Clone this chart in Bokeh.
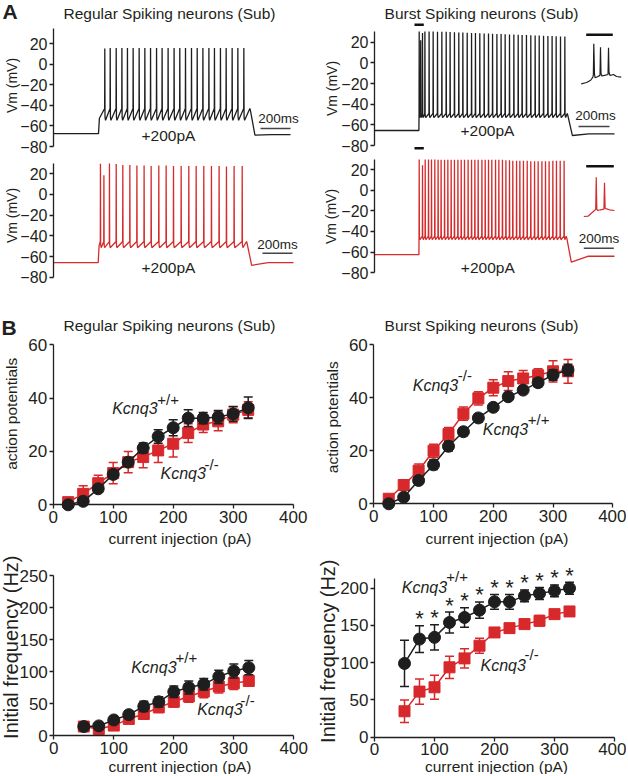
import math
from bokeh.plotting import figure
from bokeh.models import Range1d, Label, FixedTicker
from bokeh.layouts import column, row
from bokeh.core.properties import value
from bokeh.embed import file_html
from bokeh.resources import INLINE

# ================= DATA =================
# ---- Panel A: membrane potential traces at +200 pA (time in ms, Vm in mV) ----
rs_wt_spikes = [342, 378, 418, 456, 493, 531, 571, 609, 647, 687, 724, 764, 804,
                842, 880, 920, 958, 996, 1036, 1073, 1113, 1151, 1191, 1229, 1269]
rs_wt_peaks = [15.5, 16, 16, 16, 16, 16, 16, 16, 16, 16, 16, 16, 16,
               16, 16, 16, 16, 16, 16, 16, 16, 16, 16, 16, 16]
rs_wt_levels = [-67.5, -43, -54.5, -69, -68.5]   # rest, threshold, trough, undershoot, rest after
rs_wt_step = [300, 1313, 1580]                    # step on, step off, trace end

rs_ko_spikes = [313, 336, 373, 418, 462, 509, 556, 604, 651, 702, 751, 800, 851,
                902, 951, 1002, 1053, 1104, 1153, 1204, 1258]
rs_ko_peaks = [29.7, 18.5, 30, 29.5, 28.5, 28.5, 28, 28, 27.5, 28, 28, 27.5, 27.5,
               27.5, 27.5, 27.5, 27.5, 27.5, 27, 27.5, 27.5]
rs_ko_levels = [-66, -45.5, -51.5, -68.5, -66]
rs_ko_step = [298, 1291, 1600]

bs_wt_spikes = [298, 308, 320, 336, 364, 391, 420, 449, 478, 504, 533, 562, 589,
                618, 647, 673, 702, 731, 760, 787, 816, 844, 871, 900, 929, 958,
                984, 1013, 1042, 1071, 1098, 1127, 1156, 1184, 1211, 1240, 1269]
bs_wt_peaks = [30.4, 22, 29, 30.4, 30.4, 30.3, 30.2, 30.1, 30, 29.8, 29.7, 29.5, 29.4,
               29.2, 29, 28.9, 28.7, 28.5, 28.4, 28.2, 28, 27.9, 27.7, 27.5, 27.4, 27.2,
               27, 26.9, 26.7, 26.5, 26.4, 26.2, 26, 25.9, 25.7, 25.6, 25.5]
bs_wt_levels = [-65.5, -49, -53, -70.3, -68.7]
bs_wt_step = [296, 1289, 1600]

bs_ko_spikes = [298, 320, 338, 360, 380, 402, 424, 444, 467, 489, 511, 533, 556, 578,
                600, 624, 647, 669, 691, 716, 738, 760, 782, 807, 829, 853, 876, 900,
                922, 947, 969, 993, 1018, 1042, 1067, 1091, 1116, 1140, 1164, 1189,
                1213, 1238, 1264]
bs_ko_peaks = [29.7, 24, 29.7, 29.7, 29.7, 29.7, 29.5, 29.5, 29.5, 29.5, 29.5, 29.5, 29.5, 29.5,
               29.5, 29.5, 29.5, 29.5, 29.5, 29.5, 29.5, 29.5, 29.5, 29.5, 29.5, 29.5, 29, 29,
               28.5, 28.5, 28.5, 28.5, 28.5, 28, 28, 28, 28, 28, 28, 28.5,
               28.5, 28.5, 28.5]
bs_ko_levels = [-62.5, -44.5, -48, -69.7, -64]
bs_ko_step = [296, 1282, 1600]

# Insets: first burst, expanded (ms from window start, mV)
bs_wt_inset_t = [0, 12, 21, 26, 27, 28, 29.5, 31, 36, 41.8, 42.9, 44, 46, 54, 59.6, 60.7,
                 61.8, 64, 71.8, 78.4, 88.9]
bs_wt_inset_v = [-62, -59, -54, -47, -42, 28, -40, -48.5, -46, -43, 20.3, -38, -44.4, -42.5,
                 -41, 19, -36, -43.3, -41, -45.6, -47.1]
bs_ko_inset_t = [0, 10, 23.8, 26.5, 27.6, 29, 31.1, 37.1, 44.7, 46, 47.4, 51, 57.1, 68.2]
bs_ko_inset_v = [-62, -61, -48.5, -46, 26.5, -46, -48.5, -46.9, -45.5, 13.9, -44, -45, -46.9, -48.5]

# ---- Panel B: summary data (mean, SEM) ----
ap_current = [25, 50, 75, 100, 125, 150, 175, 200, 225, 250, 275, 300, 325]
rs_ap_wt = [0, 1.3, 6, 11.4, 16, 21.3, 25.6, 28.9, 32.5, 32.5, 32.9, 34.1, 36.4]
rs_ap_wt_err = [0.5, 0.8, 1.2, 1.5, 1.3, 1.9, 2.5, 3, 3.1, 2.1, 2.5, 2.8, 4]
rs_ap_ko = [1, 4.1, 8.1, 11.9, 16, 17.9, 20.4, 22.9, 26.9, 30.1, 31.3, 33.8, 35.6]
rs_ap_ko_err = [1, 3, 3, 4, 4, 4, 4.5, 5, 3.5, 3, 3.5, 3, 3]

bs_ap_wt = [0, 2.5, 8.8, 14.7, 21.7, 27.2, 32.4, 36.4, 40.4, 42.9, 45.7, 48.6, 50.5]
bs_ap_wt_err = [0.3, 1, 1.2, 1.8, 1.8, 1.5, 1.5, 1, 1, 1, 1.5, 2, 2.2]
bs_ap_ko = [1.9, 7.1, 12.5, 20, 26.3, 34, 39.8, 43.8, 46.3, 47.3, 48.5, 50, 50]
bs_ap_ko_err = [1, 2, 2.5, 2.5, 2.5, 2.5, 2.5, 3, 3.5, 3, 2.5, 4, 4.5]

freq_current = [50, 75, 100, 125, 150, 175, 200, 225, 250, 275, 300, 325]
rs_fr_wt = [14, 15, 24.3, 32.6, 45.5, 52.7, 68.3, 75, 80.2, 92, 100.8, 106]
rs_fr_wt_err = [3, 3, 4, 6, 8, 8, 9, 10, 9, 10, 11, 11]
rs_fr_ko = [14, 10.3, 15.5, 25.9, 33.6, 44, 52.7, 61, 68.8, 76.5, 81.7, 85.3]
rs_fr_ko_err = [3, 4, 5, 6, 7, 8, 8, 9, 10, 10, 10, 8]

bs_fr_wt = [99, 131.7, 134, 154, 160.7, 170.5, 181.7, 181.7, 189.7, 192.9, 196.4, 200]
bs_fr_wt_err = [31, 18, 17, 14, 13, 11, 10, 10, 8, 8, 8, 8]
bs_fr_ko = [34.8, 61.2, 67, 93.8, 105.8, 122.8, 140.6, 146.4, 151.8, 156.3, 165.2, 168.8]
bs_fr_ko_err = [15, 17, 16, 15, 13, 10, 6, 4, 5, 7, 4, 3]
bs_fr_significant = [False, True, True, True, True, True, True, True, True, True, True, True]

vm_ticks = [-80, -60, -40, -20, 0, 20]
current_ticks = [0, 100, 200, 300, 400]
ap_ticks = [0, 20, 40, 60]
rs_fr_ticks = [0, 50, 100, 150, 200, 250]
bs_fr_ticks = [0, 50, 100, 150, 200]

# ================= STYLE / LAYOUT =================
FONT = "Liberation Sans"
TXT = "#231f20"
AX = "#231f20"
BLACK = "#1e1e1e"
RED = "#d7282b"
TRED = "#d52b2b"


def lin(c, p):
    v1, p1, v2, p2 = c
    return v1 + (p - p1) * (v2 - v1) / (p2 - p1)


def make_fig(box, xcal, ycal, has_x):
    # the plotting frame fills the whole figure; axes are pinned inside it
    left, top, w, h = box
    p = figure(width=w, height=h,
               x_range=Range1d(lin(xcal, left), lin(xcal, left + w)),
               y_range=Range1d(lin(ycal, top + h), lin(ycal, top)),
               x_axis_type="linear" if has_x else None,
               output_backend="svg", toolbar_location=None,
               min_border_left=0, min_border_right=0,
               min_border_top=0, min_border_bottom=0)
    p.outline_line_color = None
    p.grid.grid_line_color = None
    p.background_fill_color = None
    p.border_fill_color = None
    return p


def style_axis(ax, ticks, bounds, size):
    ax.ticker = FixedTicker(ticks=ticks)
    ax.bounds = bounds
    ax.fixed_location = 0
    ax.axis_line_color = AX
    ax.axis_line_width = 1.3
    ax.major_tick_line_color = AX
    ax.major_tick_line_width = 1.3
    ax.major_tick_out = 4
    ax.major_tick_in = 0
    ax.minor_tick_line_color = None
    ax.major_label_text_font = FONT
    ax.major_label_text_font_size = f"{size}px"
    ax.major_label_text_color = TXT
    ax.major_label_standoff = 2


def lab(p, box, X, Y, text, size, align="center", baseline="middle", angle=0.0,
        style="normal", color=TXT):
    left, top = box[0], box[1]
    p.add_layout(Label(x=X - left, y=Y - top, x_units="canvas", y_units="canvas",
                       text=text, text_font=FONT, text_font_size=f"{size}px",
                       text_align=align, text_baseline=baseline, angle=angle,
                       text_font_style=style, text_color=color))


def trace_xy(spikes, peaks, levels, step):
    rest, thr, trough, under, post = levels
    t_on, t_off, t_end = step
    xs = [0, t_on]
    ys = [rest, rest]
    if spikes[0] - t_on > 12:
        xs.append(t_on + 6)
        ys.append(trough + 2)
    for ts, pk in zip(spikes, peaks):
        xs += [ts - 1, ts, ts + 1.5, ts + 5]
        ys += [thr, pk, trough + 3, trough]
    xs += [t_off - 4, t_off, t_off + 30, t_off + 140, t_end]
    ys += [thr, thr - 2, under, post, post]
    return xs, ys


def hbar(p, cal_x, cal_y, x0, x1, y, color, width, **kw):
    p.line([lin(cal_x, x0), lin(cal_x, x1)], [lin(cal_y, y), lin(cal_y, y)],
           line_color=color, line_width=width, **kw)


W_L, W_R = 314, 312


def trace_panel(box, xcal, ycal, spikes, peaks, levels, step, color, ybound,
                title=None, scalebar=None, sb_text=None, pa_text=None, vm_pos=None):
    p = make_fig(box, xcal, ycal, False)
    style_axis(p.yaxis[0], vm_ticks, ybound, 16)
    xs, ys = trace_xy(spikes, peaks, levels, step)
    p.line(xs, ys, line_color=color, line_width=1.3)
    x0, x1, yb = scalebar
    hbar(p, xcal, ycal, x0, x1, yb, "#444444", 1.4)
    lab(p, box, sb_text[0], sb_text[1], "200ms", 13.5)
    lab(p, box, pa_text[0], pa_text[1], "+200pA", 15.5)
    lab(p, box, vm_pos[0], vm_pos[1], "Vm (mV)", 14, angle=math.pi / 2)
    if title:
        lab(p, box, title[0], title[1], title[2], 15.5)
    return p


# ---------- Row 1 / Row 2: traces ----------
box_tl = (0, 0, W_L, 156)
xcal_tl = (0, 53, 1000, 203)
ycal_tl = (20, 43.3, -80, 146)
tl = trace_panel(box_tl, xcal_tl, ycal_tl, rs_wt_spikes, rs_wt_peaks,
                 rs_wt_levels, rs_wt_step, BLACK, (-80, 35),
                 title=(169, 13, "Regular Spiking neurons (Sub)"),
                 scalebar=(260, 290, 128), sb_text=(278, 118), pa_text=(168, 135),
                 vm_pos=(11.5, 85))
lab(tl, box_tl, 9.5, 11, "A", 21, style="bold")

box_tr = (314, 0, W_R, 156)
xcal_tr = (0, 374, 1000, 524)
ycal_tr = (20, 41.7, -80, 145)
tr = trace_panel(box_tr, xcal_tr, ycal_tr, bs_wt_spikes, bs_wt_peaks,
                 bs_wt_levels, bs_wt_step, BLACK, (-80, 30),
                 title=(481, 13, "Burst Spiking neurons (Sub)"),
                 scalebar=(578, 609, 126), sb_text=(595, 115), pa_text=(487, 130),
                 vm_pos=(331.5, 88))
# burst-window markers and inset
hbar(tr, xcal_tr, ycal_tr, 414, 423.3, 24.3, "#111111", 2.6)
hbar(tr, xcal_tr, ycal_tr, 414, 423.3, 147.7, "#111111", 2.6)
ixcal_tr = (0, 580.7, 100, 625.7)
iycal_tr = (-62, 83.3, 28, 43.3)
tr.extra_x_ranges = {"ix": Range1d(lin(ixcal_tr, 314), lin(ixcal_tr, 314 + W_R))}
tr.extra_y_ranges = {"iy": Range1d(lin(iycal_tr, 156), lin(iycal_tr, 0))}
tr.line(bs_wt_inset_t, bs_wt_inset_v, x_range_name="ix", y_range_name="iy",
        line_color=BLACK, line_width=1.2)
hbar(tr, xcal_tr, ycal_tr, 585.7, 612.3, 34.3, "#111111", 2.6)

box_bl = (0, 156, W_L, 154)
ycal_bl = (20, 173.3, -80, 276.7)
bl = trace_panel(box_bl, xcal_tl, ycal_bl, rs_ko_spikes, rs_ko_peaks,
                 rs_ko_levels, rs_ko_step, TRED, (-80, 30),
                 scalebar=(262, 292, 252.7), sb_text=(277, 244), pa_text=(168, 266.7),
                 vm_pos=(11.5, 215))

box_br = (314, 156, W_R, 154)
ycal_br = (20, 169, -80, 272.3)
br = trace_panel(box_br, xcal_tr, ycal_br, bs_ko_spikes, bs_ko_peaks,
                 bs_ko_levels, bs_ko_step, TRED, (-80, 30),
                 scalebar=(583.3, 613.3, 247.7), sb_text=(598.5, 237.7), pa_text=(487.3, 266.7),
                 vm_pos=(330.5, 216))
ixcal_br = (0, 583.3, 100, 628.3)
iycal_br = (-62, 216, 28, 176)
br.extra_x_ranges = {"ix": Range1d(lin(ixcal_br, 314), lin(ixcal_br, 314 + W_R))}
br.extra_y_ranges = {"iy": Range1d(lin(iycal_br, 310), lin(iycal_br, 156))}
br.line(bs_ko_inset_t, bs_ko_inset_v, x_range_name="ix", y_range_name="iy",
        line_color=TRED, line_width=1.2)
hbar(br, xcal_tr, ycal_br, 585.7, 613.3, 165.7, "#111111", 2.6)


# ---------- Rows 3 / 4: summary plots ----------
def series(p, xs, ys, errs, color, marker, size):
    up = [y + e for y, e in zip(ys, errs)]
    lo = [y - e for y, e in zip(ys, errs)]
    p.segment(x0=xs, y0=lo, x1=xs, y1=up, line_color=color, line_width=1.5)
    p.scatter(xs, up, marker="dash", size=9, line_color=color, line_width=1.5)
    p.scatter(xs, lo, marker="dash", size=9, line_color=color, line_width=1.5)
    p.line(xs, ys, line_color=color, line_width=1.5)
    p.scatter(xs, ys, marker=marker, size=size, fill_color=color, line_color=color)
    return up


def summary_panel(box, xcal, ycal, yticks, ybound, xs, wt, wt_e, ko, ko_e,
                  ylabel, ylabel_pos, ylabel_size, xlabel_pos, labels):
    p = make_fig(box, xcal, ycal, True)
    style_axis(p.xaxis[0], current_ticks, (0, 400), 17)
    style_axis(p.yaxis[0], yticks, ybound, 17)
    series(p, xs, ko, ko_e, RED, "square", 11)
    up = series(p, xs, wt, wt_e, BLACK, "circle", 12)
    lab(p, box, ylabel_pos[0], ylabel_pos[1], ylabel, ylabel_size, angle=math.pi / 2)
    lab(p, box, xlabel_pos[0], xlabel_pos[1], "current injection (pA)", 15.5)
    for (kx, ky, sx, sy, sup) in labels:
        lab(p, box, kx, ky, "Kcnq3", 16, align="left", style="italic")
        lab(p, box, sx, sy, sup, 15, align="left")
    return p, up


box_blt = (0, 310, W_L, 240)
blt, _ = summary_panel(box_blt, (0, 52.7, 400, 292.7), (60, 344.3, 0, 504.3),
                       ap_ticks, (0, 60), ap_current, rs_ap_wt, rs_ap_wt_err, rs_ap_ko, rs_ap_ko_err,
                       "action potentials", (11, 413.3), 15.5, (179.5, 538.3),
                       [(111.7, 408.3, 156.7, 398.7, "+/+"), (160, 473.3, 204, 464, "-/-")])
lab(blt, box_blt, 8.5, 327, "B", 21, style="bold")
lab(blt, box_blt, 169, 325, "Regular Spiking neurons (Sub)", 15.5)

box_brt = (314, 310, W_R, 240)
brt, _ = summary_panel(box_brt, (0, 373.3, 400, 612.3), (60, 344.3, 0, 503.3),
                       ap_ticks, (0, 60), ap_current, bs_ap_wt, bs_ap_wt_err, bs_ap_ko, bs_ap_ko_err,
                       "action potentials", (331.5, 416.7), 15.5, (496.5, 538.3),
                       [(412.3, 385, 457.3, 375, "-/-"), (482.3, 429, 527.3, 419, "+/+")])
lab(brt, box_brt, 481, 325, "Burst Spiking neurons (Sub)", 15.5)

box_blb = (0, 550, W_L, 224)
blb, _ = summary_panel(box_blb, (0, 53.3, 400, 293.3), (250, 575, 0, 735),
                       rs_fr_ticks, (0, 250), freq_current, rs_fr_wt, rs_fr_wt_err, rs_fr_ko, rs_fr_ko_err,
                       "Initial frequency (Hz)", (10.5, 646.7), 20, (179.5, 766),
                       [(130.7, 667.3, 175, 656.7, "+/+"), (196.7, 709.3, 240, 700, "-/-")])

box_brb = (314, 550, W_R, 224)
brb, bs_up = summary_panel(box_brb, (0, 374, 400, 614), (200, 587.7, 0, 736.7),
                           bs_fr_ticks, (0, 212.6), freq_current, bs_fr_wt, bs_fr_wt_err, bs_fr_ko, bs_fr_ko_err,
                           "Initial frequency (Hz)", (327.3, 650.7), 20, (496, 766),
                           [(401.3, 586.7, 445.7, 576, "+/+"), (480, 665, 524, 654.3, "-/-")])
sig_x = [x for x, s in zip(freq_current, bs_fr_significant) if s]
sig_y = [u for u, s in zip(bs_up, bs_fr_significant) if s]
brb.text(x=sig_x, y=sig_y, text=["*"] * len(sig_x), text_font=value(FONT),
         text_font_size="22px", text_align="center", text_baseline="alphabetic",
         text_color=TXT, y_offset=-7)

layout = column(row(tl, tr), row(bl, br), row(blt, brt), row(blb, brb))

open("out.html", "w").write(file_html(layout, INLINE))
